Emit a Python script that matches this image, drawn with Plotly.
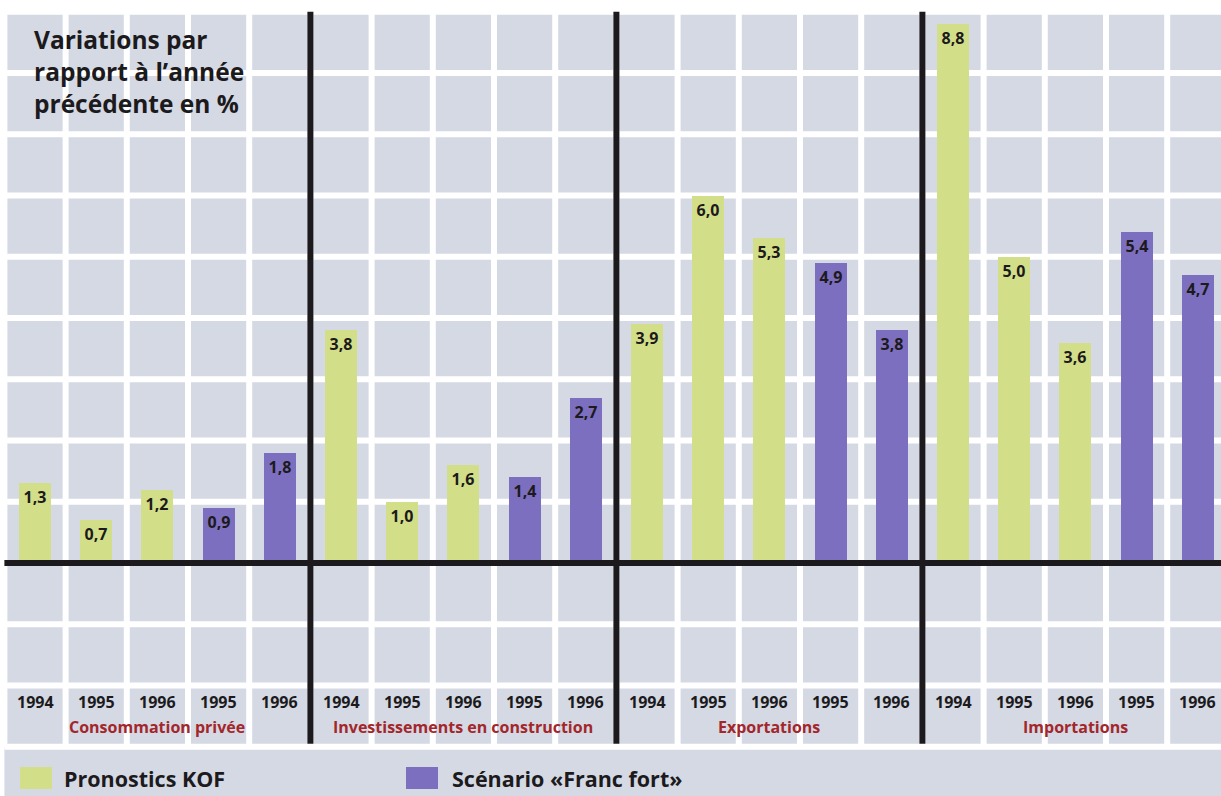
import plotly.graph_objects as go

# Data: yearly change in %, per sector
categories = ["Consommation privée", "Investissements en construction",
              "Exportations", "Importations"]
kof_years = ["1994", "1995", "1996"]
scenario_years = ["1995", "1996"]
kof_values = [[1.3, 0.7, 1.2], [3.8, 1.0, 1.6], [3.9, 6.0, 5.3], [8.8, 5.0, 3.6]]
scenario_values = [[0.9, 1.8], [1.4, 2.7], [4.9, 3.8], [5.4, 4.7]]
series_names = ["Pronostics KOF", "Scénario «Franc fort»"]

W, H = 1221, 796
GREEN = "#d3df88"
PURPLE = "#7d6fbf"
CELL = "#d4d9e4"
INK = "#1c1a1c"
RED = "#a3262b"
FONT = "Open Sans"

slots_per_group = len(kof_years) + len(scenario_years)

kof_x, kof_y, sc_x, sc_y = [], [], [], []
for g in range(len(categories)):
    base = g * slots_per_group
    for i, v in enumerate(kof_values[g]):
        kof_x.append(base + i)
        kof_y.append(v)
    for i, v in enumerate(scenario_values[g]):
        sc_x.append(base + len(kof_years) + i)
        sc_y.append(v)

n_slots = slots_per_group * len(categories)

fig = go.Figure()
bar_text = dict(family=FONT, size=16, color=INK, weight="bold")
for xs, ys, color, name in [(kof_x, kof_y, GREEN, series_names[0]),
                            (sc_x, sc_y, PURPLE, series_names[1])]:
    fig.add_trace(go.Bar(
        x=xs, y=ys, name=name, width=0.52,
        marker=dict(color=color, line=dict(width=0)),
        texttemplate="%{y:.1f}", textposition="inside",
        insidetextanchor="end", textangle=0, textfont=bar_text,
        constraintext="none", showlegend=False, hoverinfo="skip",
    ))

# axis ranges: one slot per x unit, one percent per y unit
unit_x = 61.2
unit_y = 61.25
x0 = -35 / unit_x
x1 = x0 + W / unit_x
y1 = 563 / unit_y
y0 = y1 - H / unit_y

shapes = []
# grey paper with white grid
shapes.append(dict(type="rect", xref="x", yref="y", x0=-0.5, x1=x1 + 1,
                   y0=y0 - 1, y1=9, fillcolor=CELL, line=dict(width=0),
                   layer="below"))
for k in range(-3, 10):
    shapes.append(dict(type="line", xref="x", yref="y", x0=-0.5, x1=x1 + 1,
                       y0=k, y1=k, line=dict(color="white", width=6),
                       layer="below"))
for k in range(n_slots + 1):
    shapes.append(dict(type="line", xref="x", yref="y", x0=k - 0.5, x1=k - 0.5,
                       y0=-3, y1=9, line=dict(color="white", width=6),
                       layer="below"))
# group separators and zero line
for g in range(1, len(categories)):
    xs = g * slots_per_group - 0.5
    shapes.append(dict(type="line", xref="x", yref="y", x0=xs, x1=xs,
                       y0=-2.95, y1=9, line=dict(color=INK, width=6),
                       layer="above"))
shapes.append(dict(type="line", xref="x", yref="y", x0=-0.5, x1=x1 + 1,
                   y0=0, y1=0, line=dict(color=INK, width=6), layer="above"))


def px(x):
    return x / W


def py(y):
    return 1 - y / H


# legend swatches
for (l, r), color in [((20, 52), GREEN), ((406, 438), PURPLE)]:
    shapes.append(dict(type="rect", xref="paper", yref="paper",
                       x0=px(l), x1=px(r), y0=py(789), y1=py(767),
                       fillcolor=color, line=dict(width=0), layer="above"))

annotations = []
annotations.append(dict(
    text="Variations par<br>rapport à l’année<br>précédente en %",
    xref="paper", yref="paper", x=px(32), y=py(21), xanchor="left",
    yanchor="top", align="left", showarrow=False,
    font=dict(family=FONT, size=24.5, color=INK, weight="bold")))

year_labels = kof_years + scenario_years
for g, cat in enumerate(categories):
    base = g * slots_per_group
    for i, yr in enumerate(year_labels):
        annotations.append(dict(
            text=yr, xref="x", yref="y", x=base + i, y=(563 - 702) / unit_y,
            showarrow=False, xanchor="center", yanchor="middle",
            font=dict(family=FONT, size=16, color=INK, weight="bold")))
    annotations.append(dict(
        text=cat, xref="x", yref="y", x=base + 2, y=(563 - 727) / unit_y,
        showarrow=False, xanchor="center", yanchor="middle",
        font=dict(family=FONT, size=16, color=RED, weight="bold")))

for name, left in zip(series_names, [62, 450]):
    annotations.append(dict(
        text=name, xref="paper", yref="paper", x=px(left), y=py(778),
        xanchor="left", yanchor="middle", showarrow=False,
        font=dict(family=FONT, size=21.5, color=INK, weight="bold")))

fig.update_layout(
    width=W, height=H, margin=dict(l=0, r=0, t=0, b=0),
    paper_bgcolor="white", plot_bgcolor="white",
    separators=",.", bargap=0,
    xaxis=dict(range=[x0, x1], visible=False, fixedrange=True),
    yaxis=dict(range=[y0, y1], visible=False, fixedrange=True),
    shapes=shapes, annotations=annotations,
)

fig.write_html("out.html")
